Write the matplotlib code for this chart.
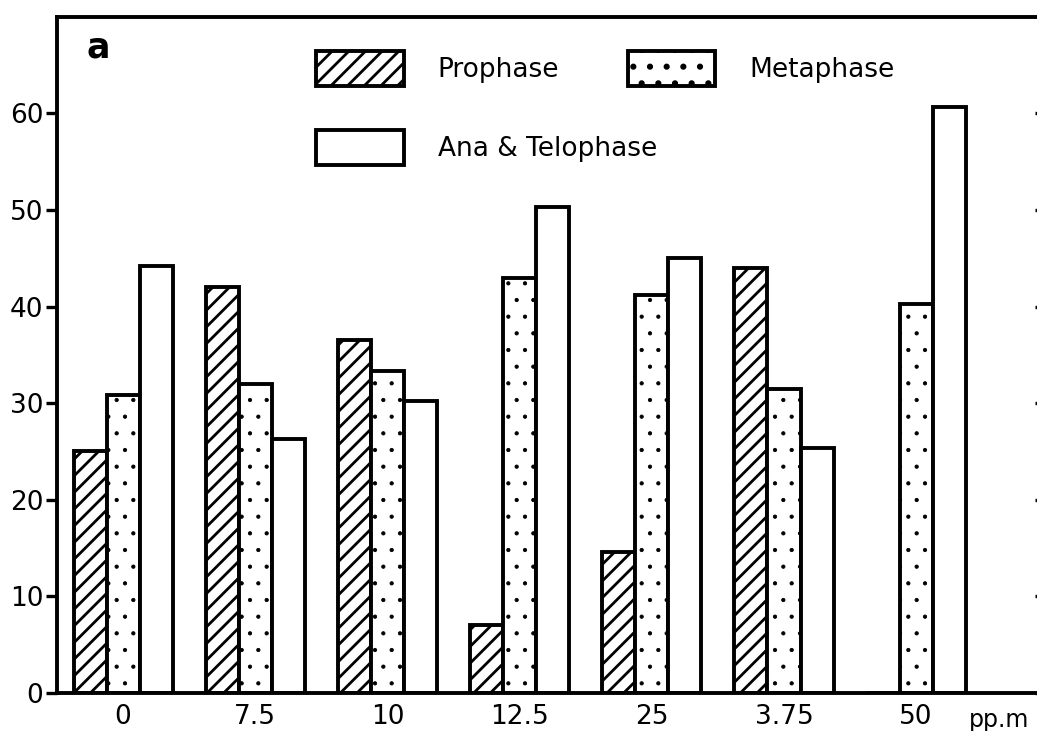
import numpy as np
import matplotlib
matplotlib.use("Agg")
import matplotlib.pyplot as plt
from matplotlib.lines import TICKLEFT

# concentrations (ppm) and % of dividing cells in each phase
doses = ["0", "7.5", "10", "12.5", "25", "3.75", "50"]
prophase = [25, 42, 36.5, 7, 14.6, 44, 0]
metaphase = [30.8, 32, 33.3, 43, 41.2, 31.5, 40.3]
ana_telo = [44.2, 26.3, 30.2, 50.3, 45, 25.4, 60.7]

plt.rcParams['hatch.linewidth'] = 2.0
plt.rcParams['hatch.color'] = 'black'

fig = plt.figure(figsize=(10.37, 7.31), dpi=100)
ax = fig.add_axes([0.055, 0.052, 0.947, 0.925])

x = np.arange(len(doses))
w = 0.25
kw = dict(width=w, edgecolor='black', linewidth=2.8, color='white')
b1 = ax.bar(x - w, prophase, hatch='//', **kw)
b2 = ax.bar(x, metaphase, hatch='.', **kw)
b3 = ax.bar(x + w, ana_telo, **kw)
# smaller dots for the metaphase stipple
for p in b2:
    try:
        p.set_hatch_linewidth(0.6)
    except AttributeError:
        pass

ax.set_xlim(-0.5, 6.93)
ax.set_ylim(0, 70)
ax.set_yticks(range(0, 70, 10))
ax.set_xticks(x)
ax.set_xticklabels(doses)

for s in ['left', 'bottom', 'top']:
    ax.spines[s].set_linewidth(2.8)
ax.spines['right'].set_visible(False)

ax.tick_params(axis='x', length=0, labelsize=19, pad=8)
ax.tick_params(axis='y', left=True, right=True, direction='out', length=8,
               width=2.4, labelsize=19, pad=2)
# small inward marks on the right-hand side
for tk in ax.yaxis.get_major_ticks():
    tk.tick2line.set_marker(TICKLEFT)
    tk.tick2line.set_markersize(3)

ax.text(0.03, 0.955, "a", transform=ax.transAxes, fontsize=25,
        fontweight='bold', va='center', ha='left')
ax.text(0.99, -0.04, "pp.m", transform=ax.transAxes, fontsize=17,
        va='center', ha='right')

leg1 = ax.legend([b1, b2], ["Prophase", "Metaphase"],
                 ncol=2, frameon=False, loc='upper left',
                 bbox_to_anchor=(0.24, 0.985), fontsize=19,
                 handlelength=3.3, handleheight=1.7, handletextpad=1.3,
                 columnspacing=2.6)
ax.add_artist(leg1)
ax.legend([b3], ["Ana & Telophase"], frameon=False, loc='upper left',
          bbox_to_anchor=(0.24, 0.868), fontsize=19,
          handlelength=3.3, handleheight=1.7, handletextpad=1.3)

fig.savefig("out.png", dpi=100, facecolor='white')
